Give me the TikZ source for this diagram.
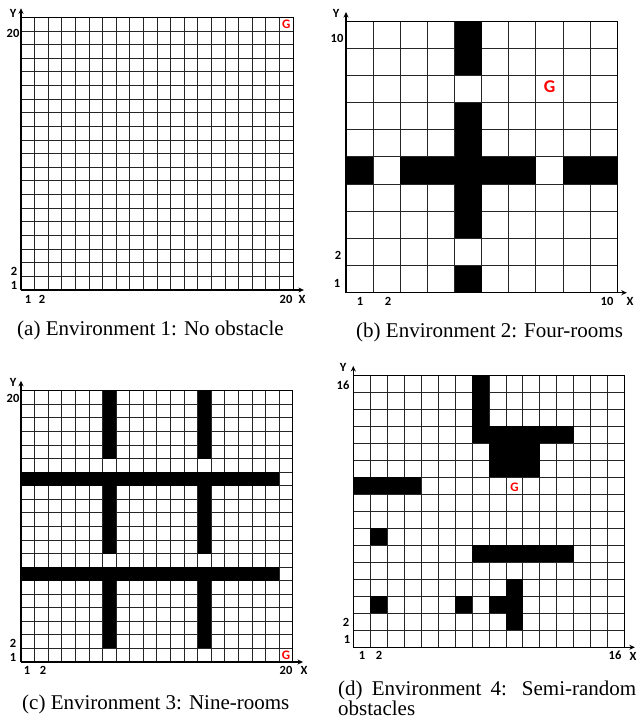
\documentclass[tikz,border=0pt]{standalone}
\usepackage{fontspec}
\setmainfont{Liberation Serif}
\newfontfamily\labfont{Carlito}
\usetikzlibrary{arrows.meta}
\tikzset{
  gridline/.style={line width=0.85pt, draw=black!85},
  border/.style={line width=0.9pt, draw=black},
  axisline/.style={line width=1.4pt, draw=black, -{Stealth[length=5.5pt,width=5pt]}},
  wall/.style={fill=black},
  lab/.style={font=\labfont\bfseries\fontsize{12.5}{12.5}\selectfont, inner sep=0pt},
  goal/.style={font=\labfont\bfseries\fontsize{13}{13}\selectfont, text=red, inner sep=0pt},
  biggoal/.style={font=\labfont\bfseries\fontsize{18}{18}\selectfont, text=red, inner sep=0pt},
  capt/.style={font=\fontsize{21}{24}\selectfont, inner sep=0pt, anchor=base west}
}
\begin{document}
\begin{tikzpicture}[x=1pt,y=-1pt]
\useasboundingbox (0,0) rectangle (637,719);

% ---------------- panel (a) ----------------
\begin{scope}[shift={(21,290)}, x=13.6pt, y=13.635pt]
  \foreach \i in {1,...,19} {
    \draw[gridline] (\i,0) -- (\i,20);
    \draw[gridline] (0,\i) -- (20,\i);
  }
  \draw[border] (0,20) -- (20,20) -- (20,0);
  \coordinate (aO) at (0,0);
  \coordinate (aY) at (0,20.66);
  \coordinate (aX) at (20.8,0);
  \draw[axisline] (aO) -- (aY);
  \draw[axisline] (aO) -- (aX);
  \node[goal] (aG) at (19.5,19.5) {G};
\end{scope}
\node[lab] (aYl) at (13,13) {Y};
\node[lab] (a20) at (13,33) {20};
\node[lab] (a2) at (14,271) {2};
\node[lab] (a1) at (14,285) {1};
\node[lab] (ax1) at (28,299) {1};
\node[lab] (ax2) at (42,299) {2};
\node[lab] (ax20) at (286,299) {20};
\node[lab] (aXl) at (302,299) {X};
\node[capt] (capa) at (17,335) {(a) Environment 1: No obstacle};

% ---------------- panel (b) ----------------
\begin{scope}[shift={(346,292.7)}, x=27.13pt, y=27.17pt]
  \foreach \i in {1,...,9} {
    \draw[gridline] (\i,0) -- (\i,10);
    \draw[gridline] (0,\i) -- (10,\i);
  }
  \fill[wall] (4,8) rectangle (5,10);
  \fill[wall] (4,5) rectangle (5,7);
  \fill[wall] (0,4) rectangle (1,5);
  \fill[wall] (2,4) rectangle (7,5);
  \fill[wall] (8,4) rectangle (10,5);
  \fill[wall] (4,2) rectangle (5,4);
  \fill[wall] (4,0) rectangle (5,1);
  \draw[border] (0,10) -- (10,10) -- (10,0);
  \coordinate (bO) at (0,0);
  \coordinate (bY) at (0,10.33);
  \coordinate (bX) at (10.35,0);
  \draw[axisline] (bO) -- (bY);
  \draw[axisline] (bO) -- (bX);
  \node[biggoal] (bG) at (7.5,7.6) {G};
\end{scope}
\node[lab] (bYl) at (336,13) {Y};
\node[lab] (b10) at (337,38) {10};
\node[lab] (b2) at (338,255) {2};
\node[lab] (b1) at (337,283) {1};
\node[lab] (bx1) at (360,301) {1};
\node[lab] (bx2) at (388,301) {2};
\node[lab] (bx10) at (607,301) {10};
\node[lab] (bXl) at (630,301) {X};
\node[capt] (capb) at (356,337) {(b) Environment 2: Four-rooms};

% ---------------- panel (c) ----------------
\begin{scope}[shift={(21,662)}, x=13.59pt, y=13.56pt]
  \foreach \i in {1,...,19} {
    \draw[gridline] (\i,0) -- (\i,20);
    \draw[gridline] (0,\i) -- (20,\i);
  }
  \foreach \c in {6,13} {
    \fill[wall] (\c,15) rectangle (\c+1,20);
    \fill[wall] (\c,8) rectangle (\c+1,13);
    \fill[wall] (\c,1) rectangle (\c+1,6);
  }
  \fill[wall] (0,13) rectangle (19,14);
  \fill[wall] (0,6) rectangle (19,7);
  \draw[border] (0,20) -- (20,20) -- (20,0);
  \coordinate (cO) at (0,0);
  \coordinate (cY) at (0,20.74);
  \coordinate (cX) at (20.75,0);
  \draw[axisline] (cO) -- (cY);
  \draw[axisline] (cO) -- (cX);
  \node[goal] (cG) at (19.5,0.5) {G};
\end{scope}
\node[lab] (cYl) at (13,382) {Y};
\node[lab] (c20) at (13,398) {20};
\node[lab] (c2) at (13,643) {2};
\node[lab] (c1) at (13,657) {1};
\node[lab] (cx1) at (27,670) {1};
\node[lab] (cx2) at (43,670) {2};
\node[lab] (cx20) at (286,670) {20};
\node[lab] (cXl) at (304,670) {X};
\node[capt] (capc) at (22,709) {(c) Environment 3: Nine-rooms};

% ---------------- panel (d) ----------------
\begin{scope}[shift={(353.3,647.3)}, x=16.96pt, y=17.02pt]
  \foreach \i in {1,...,15} {
    \draw[gridline] (\i,0) -- (\i,16);
    \draw[gridline] (0,\i) -- (16,\i);
  }
  \fill[wall] (7,13) rectangle (8,16);
  \fill[wall] (7,12) rectangle (13,13);
  \fill[wall] (8,10) rectangle (11,12);
  \fill[wall] (0,9) rectangle (4,10);
  \fill[wall] (1,6) rectangle (2,7);
  \fill[wall] (7,5) rectangle (13,6);
  \fill[wall] (9,3) rectangle (10,4);
  \fill[wall] (1,2) rectangle (2,3);
  \fill[wall] (6,2) rectangle (7,3);
  \fill[wall] (8,2) rectangle (10,3);
  \fill[wall] (9,1) rectangle (10,2);
  \draw[border] (0,16) -- (16,16) -- (16,0);
  \coordinate (dO) at (0,0);
  \coordinate (dY) at (0,16.53);
  \coordinate (dX) at (16.6,0);
  \draw[axisline] (dO) -- (dY);
  \draw[axisline] (dO) -- (dX);
  \node[goal] (dG) at (9.5,9.4) {G};
\end{scope}
\node[lab] (dYl) at (343,367) {Y};
\node[lab] (d16) at (343,385) {16};
\node[lab] (d2) at (346,622) {2};
\node[lab] (d1) at (347,639) {1};
\node[lab] (dx1) at (362,655) {1};
\node[lab] (dx2) at (379,655) {2};
\node[lab] (dx16) at (615,655) {16};
\node[lab] (dXl) at (633,656) {X};
\node[capt] (capd1) at (338,695) {\makebox[298pt][s]{(d) Environment 4: Semi-random}};
\node[capt] (capd2) at (338,715.5) {obstacles};
\end{tikzpicture}
\end{document}
